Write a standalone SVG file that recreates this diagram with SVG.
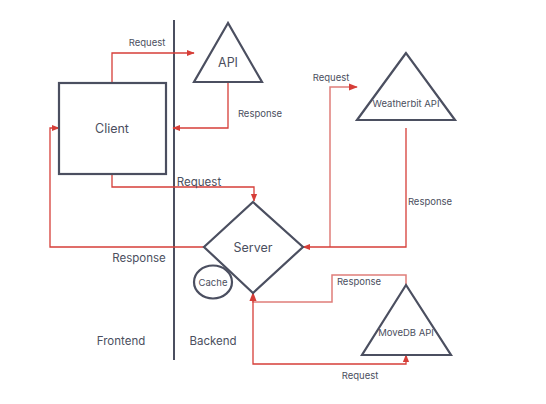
<svg xmlns="http://www.w3.org/2000/svg" width="546" height="404" viewBox="0 0 546 404">
<defs>
<style>
.n{fill:none;stroke:#4b4f60;stroke-width:2.2;stroke-linejoin:miter}
.c{fill:none;stroke:#d63e38;stroke-width:1.3}
.cl{fill:none;stroke:#e07e7a;stroke-width:1.5}
.t{font-family:Inter,"Liberation Sans",sans-serif;fill:#4b4f60;text-anchor:middle}
.lb{font-size:9.5px}
.nm{font-size:12.5px}
</style>
<marker id="ah" viewBox="0 0 10 10" refX="9" refY="5" markerWidth="6" markerHeight="6" orient="auto"><path d="M0,1 L10,5 L0,9 z" fill="#d63e38"/></marker>
</defs>
<rect width="546" height="404" fill="#ffffff"/>
<g id="divider"><line x1="174" y1="20" x2="174" y2="360" stroke="#4b4f60" stroke-width="2"/></g>
<g id="connectors">
<path class="c" d="M112,83 V53 H194" marker-end="url(#ah)"/>
<path class="c" d="M228,82 V128 H173" marker-end="url(#ah)"/>
<path class="c" d="M112,174 V187 H254 V201" marker-end="url(#ah)"/>
<path class="c" d="M204,247 H50 V128 H59" marker-end="url(#ah)"/>
<path class="cl" d="M330,247 V87 H357" marker-end="url(#ah)"/>
<path class="c" d="M406,128 V247 H303" marker-end="url(#ah)"/>
<path class="cl" d="M406,285 V275 H332 V302 H253 V293" marker-end="url(#ah)"/>
<path class="c" d="M253,293 V364 H406 V355" marker-end="url(#ah)"/>
<text class="t lb" x="147" y="46">Request</text>
<text class="t lb" x="260" y="117">Response</text>
<text class="t" style="font-size:11.5px" x="199" y="186">Request</text>
<text class="t" style="font-size:11.5px" x="139" y="262">Response</text>
<text class="t lb" x="331" y="81">Request</text>
<text class="t lb" x="430" y="205">Response</text>
<text class="t lb" x="359" y="285">Response</text>
<text class="t lb" x="360" y="379">Request</text>
</g>
<g id="client"><rect class="n" x="59" y="83" width="107" height="91"/><text class="t nm" x="112" y="133">Client</text></g>
<g id="api"><polygon class="n" points="228,23 194,82 262,82"/><text class="t nm" x="228" y="67">API</text></g>
<g id="server"><polygon class="n" points="253,202 303,247 253,293 204,247"/><text class="t nm" x="253" y="252">Server</text></g>
<g id="cache"><ellipse class="n" cx="213" cy="282" rx="19" ry="16.5" stroke-width="1.8"/><text class="t" style="font-size:9.5px" x="213" y="285.5">Cache</text></g>
<g id="weatherbit"><polygon class="n" points="406,53 357,120 455,120"/><text class="t lb" x="406" y="107">Weatherbit API</text></g>
<g id="moviedb"><polygon class="n" points="406,285 362,355 451,355"/><text class="t lb" x="406" y="336">MoveDB API</text></g>
<g id="labels"><text class="t" style="font-size:11.5px" x="121" y="345">Frontend</text><text class="t" style="font-size:11.5px" x="213" y="345">Backend</text></g>
</svg>
